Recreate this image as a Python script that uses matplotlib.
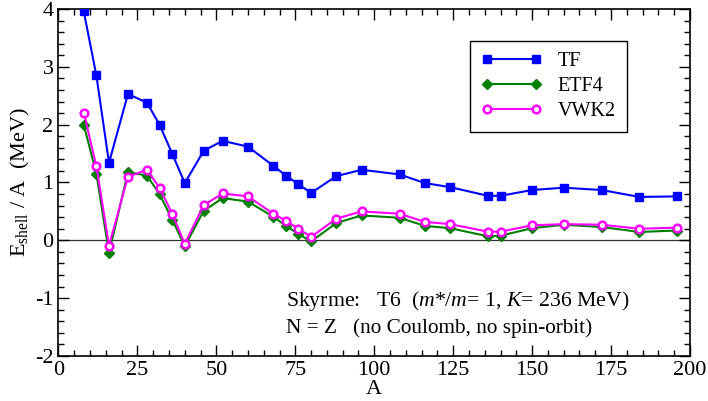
import numpy as np
import matplotlib
matplotlib.use("Agg")
from matplotlib import pyplot as plt

# N = Z nuclei, shell energy per nucleon (MeV)
A = [8, 12, 16, 22, 28, 32, 36, 40, 46, 52, 60, 68, 72, 76, 80,
     88, 96, 108, 116, 124, 136, 140, 150, 160, 172, 184, 196]

tf = [3.96, 2.85, 1.34, 2.53, 2.38, 2.00, 1.50, 0.99, 1.55, 1.72, 1.62, 1.29, 1.12, 0.97, 0.82,
      1.11, 1.22, 1.14, 0.99, 0.92, 0.77, 0.77, 0.87, 0.91, 0.87, 0.75, 0.76]

etf4 = [2.00, 1.15, -0.22, 1.18, 1.12, 0.80, 0.36, -0.10, 0.51, 0.73, 0.67, 0.41, 0.25, 0.11, -0.02,
        0.30, 0.43, 0.39, 0.25, 0.21, 0.07, 0.08, 0.21, 0.27, 0.23, 0.145, 0.17]

vwk2 = [2.21, 1.28, -0.09, 1.10, 1.22, 0.91, 0.46, -0.06, 0.61, 0.81, 0.76, 0.46, 0.34, 0.20, 0.06,
        0.375, 0.50, 0.46, 0.32, 0.28, 0.15, 0.15, 0.26, 0.28, 0.27, 0.20, 0.22]

plt.rcParams['font.family'] = ['Liberation Serif', 'DejaVu Serif']
plt.rcParams['mathtext.fontset'] = 'custom'
plt.rcParams['mathtext.rm'] = 'Liberation Serif'
plt.rcParams['mathtext.it'] = 'Liberation Serif:italic'
plt.rcParams['axes.unicode_minus'] = False

fig = plt.figure(figsize=(7.08, 4.01), dpi=100)
ax = fig.add_axes([0.0826, 0.1122, 0.892, 0.8654])

ax.axhline(0, color='#333333', lw=0.9, zorder=1)

ax.plot(A, tf, color='#0000ff', lw=1.5, marker='s', ms=5.8, label='TF', zorder=3)
ax.plot(A, etf4, color='#008000', lw=1.5, marker='D', ms=5.2, label='ETF4', zorder=3)
ax.plot(A, vwk2, color='#ff00ff', lw=1.5, marker='o', ms=5.5, mfc='white',
        mec='#ff00ff', mew=1.8, label='VWK2', zorder=4)

ax.set_xlim(0, 200)
ax.set_ylim(-2, 4)
ax.set_xticks(np.arange(0, 201, 25))
ax.set_xticks(np.arange(0, 201, 5), minor=True)
ax.set_yticks(np.arange(-2, 5, 1))
ax.set_yticks(np.arange(-2, 4.01, 0.2), minor=True)
ax.tick_params(which='both', direction='in', top=True, right=True, labelsize=16, width=1)
ax.tick_params(which='major', length=8)
ax.tick_params(which='minor', length=4)
for s in ax.spines.values():
    s.set_linewidth(1.2)

ax.set_xlabel("A", fontsize=16, labelpad=0)
ax.set_ylabel(r"E$_{\rm shell}$ / A  (MeV)", fontsize=16, labelpad=2)

ax.text(72, -1.14, r"Skyrme:   T6  ($m$*/$m$= 1, $K$= 236 MeV)", fontsize=15.7)
ax.text(72, -1.60, "N = Z   (no Coulomb, no spin-orbit)", fontsize=15.3)

leg = ax.legend(loc='upper right', bbox_to_anchor=(0.90, 0.909), borderaxespad=0,
                fontsize=14.5, numpoints=2, handlelength=3.0, fancybox=False,
                edgecolor='black', framealpha=1, borderpad=0.55, labelspacing=0.3)
leg.get_frame().set_linewidth(1.0)

plt.savefig("out.png", dpi=100)
